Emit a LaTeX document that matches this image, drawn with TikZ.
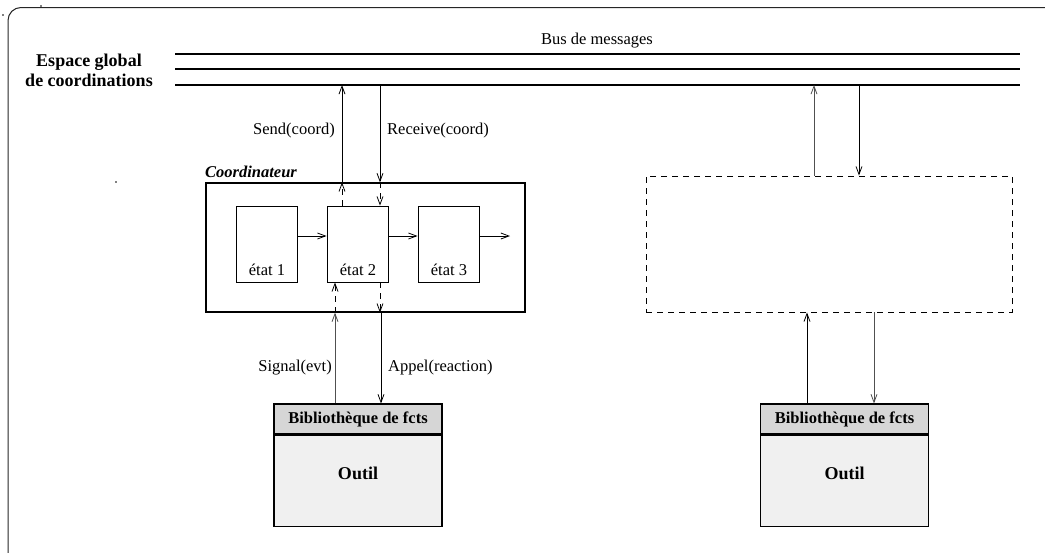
\documentclass[tikz,border=0pt]{standalone}
\usepackage{fontspec}
\setmainfont{Liberation Serif}
\usetikzlibrary{arrows.meta,calc}

\definecolor{headgray}{HTML}{D6D6D6}
\definecolor{bodygray}{HTML}{F0F0F0}
\definecolor{linegray}{HTML}{505050}

\tikzset{
  txt/.style={font=\fontsize{16.5}{20}\selectfont, inner sep=0pt},
  bigtxt/.style={font=\fontsize{18}{20}\selectfont\bfseries, inner sep=0pt},
  statebox/.style={draw, line width=0.9pt, minimum width=61pt, minimum height=76pt, inner sep=0pt},
  coordbox/.style={draw, line width=1.3pt, minimum width=319pt, minimum height=129pt, inner sep=0pt},
  ghostbox/.style={draw, line width=0.9pt, dash pattern=on 6pt off 5pt, minimum width=366pt, minimum height=136pt, inner sep=0pt},
  libhead/.style={draw, line width=1.1pt, fill=headgray, minimum width=168pt, minimum height=30pt, inner sep=0pt, font=\fontsize{16.5}{20}\selectfont\bfseries},
  libbody/.style={draw, line width=1.1pt, fill=bodygray, minimum width=168pt, minimum height=91pt, inner sep=0pt},
  busline/.style={line width=1.5pt},
  arr/.style={line width=0.9pt, -{Straight Barb[length=8pt,width=6pt,line width=0.8pt]}},
  garr/.style={arr, draw=linegray},
  darr/.style={arr, dash pattern=on 6pt off 5pt},
}

\begin{document}
\begin{tikzpicture}[x=1pt,y=-1pt]
\useasboundingbox (0,0) rectangle (1045,552);
\clip (0,0) rectangle (1045,552);

% outer frame
\draw[line width=1pt, draw=black!85, rounded corners=13pt] (8,7.5) rectangle (1080,575);
\fill (3,15) circle (0.8pt);
\fill (41,6) circle (0.8pt);
\fill (116,182) circle (0.8pt);

% global coordination space and message bus
\node[bigtxt, align=center] (espace) at (89,70) {Espace global\\de coordinations};
\coordinate (busA1) at (175,54);  \coordinate (busB1) at (1020,54);
\coordinate (busA2) at (175,69);  \coordinate (busB2) at (1020,69);
\coordinate (busA3) at (175,85);  \coordinate (busB3) at (1020,85);
\draw[busline] (busA1) -- (busB1);
\draw[busline] (busA2) -- (busB2);
\draw[busline] (busA3) -- (busB3);
\node[txt] (bus) at (597,41) {Bus de messages};

% coordinator with its states
\node[coordbox] (coord) at (365.5,247.5) {};
\node[txt, font=\fontsize{16.5}{20}\selectfont\bfseries\itshape, anchor=west] (coordlbl) at (205,172) {Coordinateur};
\node[statebox] (e1) at (266.5,244) {};
\node[statebox] (e2) at (357.5,244) {};
\node[statebox] (e3) at (448.5,244) {};
\node[txt] (e1l) at (267,270) {état 1};
\node[txt] (e2l) at (358,270) {état 2};
\node[txt] (e3l) at (449,270) {état 3};
\coordinate (eout) at (510,236);
\draw[arr] (e1.east |- eout) -- (e2.west |- eout);
\draw[arr] (e2.east |- eout) -- (e3.west |- eout);
\draw[arr] (e3.east |- eout) -- (eout);

% connector abscissas
\coordinate (xs) at (342,0);
\coordinate (xr) at (380,0);
\coordinate (xg) at (335,0);
\coordinate (xa) at (381,0);

% bus <-> coordinator
\draw[arr] (coord.north -| xs) -- (xs |- busA3);
\draw[arr] (xr |- busA3) -- (coord.north -| xr);
\draw[darr] (e2.north -| xs) -- (coord.north -| xs);
\draw[darr] (coord.north -| xr) -- (e2.north -| xr);
\node[txt, anchor=east] (send) at (335,131) {Send(coord)};
\node[txt, anchor=west] (recv) at (387,131) {Receive(coord)};

% tool library (left)
\node[libhead] (lib1h) at (358,419) {Bibliothèque de fcts};
\node[libbody, anchor=north] (lib1b) at (lib1h.south) {};
\node[bigtxt] (out1) at (lib1b.center |- 0,473) {Outil};

% coordinator <-> library
\draw[darr] (coord.south -| xg) -- (e2.south -| xg);
\draw[darr] (e2.south -| xr) -- (coord.south -| xr);
\draw[garr] (lib1h.north -| xg) -- (coord.south -| xg);
\draw[arr] (coord.south -| xa) -- (lib1h.north -| xa);
\node[txt, anchor=east] (sig) at (332,368) {Signal(evt)};
\node[txt, anchor=west] (app) at (388,368) {Appel(reaction)};

% second coordinator (dashed) and its library
\node[ghostbox] (ghost) at (829,244) {};
\coordinate (xu) at (814,0);
\coordinate (xd) at (859,0);
\coordinate (xu2) at (807,0);
\coordinate (xd2) at (874,0);
\draw[garr] (ghost.north -| xu) -- (xu |- busA3);
\draw[arr] (xd |- busA3) -- (ghost.north -| xd);

\node[libhead] (lib2h) at (844.5,419) {Bibliothèque de fcts};
\node[libbody, anchor=north] (lib2b) at (lib2h.south) {};
\node[bigtxt] (out2) at (lib2b.center |- 0,473) {Outil};
\draw[arr] (lib2h.north -| xu2) -- (ghost.south -| xu2);
\draw[garr] (ghost.south -| xd2) -- (lib2h.north -| xd2);
\end{tikzpicture}
\end{document}
